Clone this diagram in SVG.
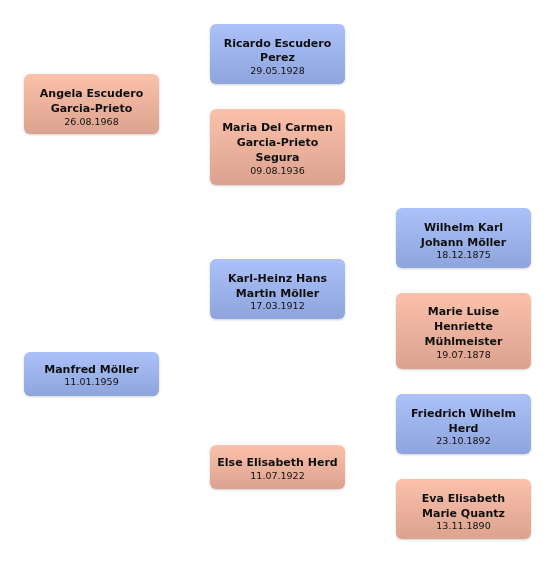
<svg xmlns="http://www.w3.org/2000/svg" width="556" height="564" viewBox="0 0 556 564">
<style>
.box{stroke:none}
.m{fill:url(#gm)}
.f{fill:url(#gf)}
.n{font-family:"DejaVu Sans",sans-serif;font-weight:bold;font-size:11px;fill:#111;text-anchor:middle}
.d{font-family:"DejaVu Sans",sans-serif;font-size:9.5px;fill:#111;text-anchor:middle}
</style>
<defs>
<linearGradient id="gm" x1="0" y1="0" x2="0" y2="1">
<stop offset="0" stop-color="#abc1f8"/>
<stop offset="1" stop-color="#8ea4dc"/>
</linearGradient>
<linearGradient id="gf" x1="0" y1="0" x2="0" y2="1">
<stop offset="0" stop-color="#fbc1ab"/>
<stop offset="1" stop-color="#dba28f"/>
</linearGradient>
<filter id="sh" x="-10%" y="-10%" width="120%" height="130%">
<feDropShadow dx="0" dy="1" stdDeviation="1" flood-color="#000" flood-opacity="0.18"/>
</filter>
</defs>
<rect width="556" height="564" fill="#fff"/>
<g id="connectors"></g>
<g id="angela" filter="url(#sh)">
<rect class="box f" x="24" y="74" width="135" height="60" rx="6"/>
<text class="n" x="91.5" y="97">Angela Escudero</text>
<text class="n" x="91.5" y="112">Garcia-Prieto</text>
<text class="d" x="91.5" y="124.5">26.08.1968</text>
</g>
<g id="ricardo" filter="url(#sh)">
<rect class="box m" x="210" y="24" width="135" height="60" rx="6"/>
<text class="n" x="277.5" y="46.5">Ricardo Escudero</text>
<text class="n" x="277.5" y="61">Perez</text>
<text class="d" x="277.5" y="73.5">29.05.1928</text>
</g>
<g id="maria" filter="url(#sh)">
<rect class="box f" x="210" y="109" width="135" height="76" rx="6"/>
<text class="n" x="277.5" y="130.5">Maria Del Carmen</text>
<text class="n" x="277.5" y="145.5">Garcia-Prieto</text>
<text class="n" x="277.5" y="160.5">Segura</text>
<text class="d" x="277.5" y="173.5">09.08.1936</text>
</g>
<g id="karlheinz" filter="url(#sh)">
<rect class="box m" x="210" y="259" width="135" height="60" rx="6"/>
<text class="n" x="277.5" y="281.5">Karl-Heinz Hans</text>
<text class="n" x="277.5" y="296.5">Martin Möller</text>
<text class="d" x="277.5" y="309">17.03.1912</text>
</g>
<g id="else" filter="url(#sh)">
<rect class="box f" x="210" y="445" width="135" height="44" rx="6"/>
<text class="n" x="277.5" y="466">Else Elisabeth Herd</text>
<text class="d" x="277.5" y="478.5">11.07.1922</text>
</g>
<g id="manfred" filter="url(#sh)">
<rect class="box m" x="24" y="352" width="135" height="44" rx="6"/>
<text class="n" x="91.5" y="372.5">Manfred Möller</text>
<text class="d" x="91.5" y="385">11.01.1959</text>
</g>
<g id="wilhelm" filter="url(#sh)">
<rect class="box m" x="396" y="208" width="135" height="60" rx="6"/>
<text class="n" x="463.5" y="230.5">Wilhelm Karl</text>
<text class="n" x="463.5" y="245.5">Johann Möller</text>
<text class="d" x="463.5" y="258">18.12.1875</text>
</g>
<g id="marieluise" filter="url(#sh)">
<rect class="box f" x="396" y="293" width="135" height="76" rx="6"/>
<text class="n" x="463.5" y="314.5">Marie Luise</text>
<text class="n" x="463.5" y="329.5">Henriette</text>
<text class="n" x="463.5" y="344.5">Mühlmeister</text>
<text class="d" x="463.5" y="357.5">19.07.1878</text>
</g>
<g id="friedrich" filter="url(#sh)">
<rect class="box m" x="396" y="394" width="135" height="60" rx="6"/>
<text class="n" x="463.5" y="416.5">Friedrich Wihelm</text>
<text class="n" x="463.5" y="431.5">Herd</text>
<text class="d" x="463.5" y="444">23.10.1892</text>
</g>
<g id="eva" filter="url(#sh)">
<rect class="box f" x="396" y="479" width="135" height="60" rx="6"/>
<text class="n" x="463.5" y="501.5">Eva Elisabeth</text>
<text class="n" x="463.5" y="516.5">Marie Quantz</text>
<text class="d" x="463.5" y="529">13.11.1890</text>
</g>
</svg>
